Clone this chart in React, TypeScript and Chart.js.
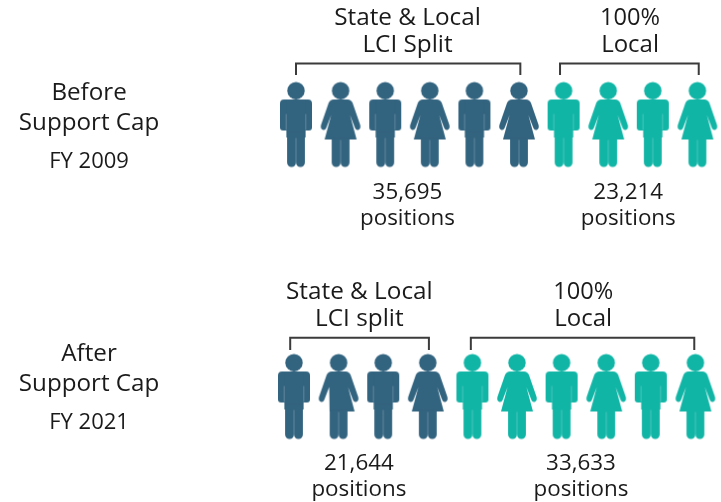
import React, { useEffect, useRef } from "react";
import { Chart, registerables } from "chart.js";

Chart.register(...registerables);

// Row 0 is "Before Support Cap", row 1 is "After Support Cap". X is the person's slot in its row.
const rowShift = [0, -0.045];
const row0Figures = ["man", "woman", "man", "woman", "man", "woman", "man", "woman", "man", "woman"];
const row1Figures = ["man", "womanCut", "man", "woman", "man", "woman", "man", "woman", "man", "woman"];
const row0Split = 6; // people in the State & Local group
const row1Split = 4;

const stateLabels = ["State & Local", "LCI Split", "35,695", "positions", "State & Local", "LCI split", "21,644", "positions"];
const stateSlots = [2.5, 2.5, 2.5, 2.5, 1.42, 1.42, 1.41, 1.41];
const stateRows = [-0.366, -0.266, 0.274, 0.369, 0.642, 0.741, 1.27, 1.366];
const stateSizes = [24.3, 24.3, 22.4, 22.4, 24.3, 24.3, 22.4, 22.4];

const localLabels = ["100%", "Local", "23,214", "positions", "100%", "Local", "33,633", "positions"];
const localSlots = [7.49, 7.49, 7.45, 7.45, 6.44, 6.44, 6.39, 6.39];
const localRows = stateRows;
const localSizes = [23.6, 24, 22.4, 22.4, 23.6, 24, 22.4, 22.4];

const sideLabels = ["Before", "Support Cap", "FY 2009", "After", "Support Cap", "FY 2021"];
const sideSlots = [-4.64, -4.64, -4.64, -4.64, -4.64, -4.64];
const sideRows = [-0.09, 0.02, 0.16, 0.87, 0.98, 1.12];
const sideSizes = [24.2, 24.2, 22, 24.2, 24.2, 22];

const bracketRuns = [
  { slots: [0, 0, 5.03, 5.03], rows: [-0.182, -0.224, -0.224, -0.182] },
  { slots: [5.92, 5.92, 9.03, 9.03], rows: [-0.182, -0.224, -0.224, -0.182] },
  { slots: [-0.13, -0.13, 2.98, 2.98], rows: [0.829, 0.784, 0.784, 0.829] },
  { slots: [3.92, 3.92, 8.93, 8.93], rows: [0.829, 0.784, 0.784, 0.829] },
];

const DARK = "#32637f";
const TEAL = "#11b5a6";
const INK = "#1a1a1a";
const BRACKET = "#3b3b3b";
const SLOT_PX = 44.6;
const ROW_PX = 272;
const ORIGIN_X = 296;
const ORIGIN_Y = 124.5;
const W = 721;
const H = 502;

function makeIcon(kind: string, color: string): HTMLCanvasElement {
  const c = document.createElement("canvas");
  c.width = 44;
  c.height = 88;
  const g = c.getContext("2d")!;
  g.translate(22, 1.5);
  g.fillStyle = color;
  g.strokeStyle = color;
  g.lineJoin = "round";
  g.lineCap = "round";
  g.beginPath();
  g.arc(0, 8.7, 8.7, 0, Math.PI * 2);
  g.fill();
  const slit = (segments: number[][]) => {
    g.strokeStyle = "rgba(255,255,255,0.3)";
    g.lineWidth = 0.8;
    g.lineCap = "butt";
    g.beginPath();
    segments.forEach((s) => {
      g.moveTo(s[0], s[1]);
      g.lineTo(s[2], s[3]);
    });
    g.stroke();
  };
  const legs = (top: number) => {
    g.beginPath();
    g.roundRect(-8.9, top, 8.9, 85 - top, [0, 0, 4.4, 4.4]);
    g.roundRect(0, top, 8.9, 85 - top, [0, 0, 4.4, 4.4]);
    g.fill();
  };
  if (kind === "man") {
    g.beginPath();
    g.roundRect(-16, 17.5, 32, 31, [4, 4, 3, 3]);
    g.fill();
    g.fillRect(-9.6, 17.5, 19.2, 38);
    legs(50);
    slit([
      [-9.8, 32, -9.8, 48],
      [9.8, 32, 9.8, 48],
      [0, 56, 0, 82],
    ]);
  } else {
    const leftHem = kind === "womanCut" ? -9 : -16;
    g.beginPath();
    g.moveTo(-7, 17.5);
    g.lineTo(7, 17.5);
    g.quadraticCurveTo(10.5, 17.5, 12, 21);
    g.lineTo(19.6, 43);
    g.quadraticCurveTo(20.5, 47, 17.5, 48);
    g.quadraticCurveTo(15.4, 48.5, 14.4, 46);
    g.lineTo(9.4, 33);
    g.lineTo(16, 57.5);
    g.lineTo(leftHem, 57.5);
    g.lineTo(-9.4, 33);
    g.lineTo(-14.4, 46);
    g.quadraticCurveTo(-15.4, 48.5, -17.5, 48);
    g.quadraticCurveTo(-20.5, 47, -19.6, 43);
    g.lineTo(-12, 21);
    g.quadraticCurveTo(-10.5, 17.5, -7, 17.5);
    g.closePath();
    g.fill();
    legs(56);
    slit([[0, 58, 0, 82]]);
  }
  return c;
}

const textPlugin = {
  id: "pictogramText",
  afterDatasetsDraw(chart: any) {
    const { ctx } = chart;
    chart.data.datasets.forEach((ds: any, i: number) => {
      if (!ds.texts) return;
      chart.getDatasetMeta(i).data.forEach((el: any, j: number) => {
        ctx.save();
        ctx.fillStyle = INK;
        ctx.textAlign = "center";
        ctx.textBaseline = "alphabetic";
        ctx.font = `${ds.sizes[j]}px "Open Sans"`;
        ctx.fillText(ds.texts[j], el.x, el.y);
        ctx.restore();
      });
    });
  },
};

const textDataset = (texts: string[], slots: number[], rows: number[], sizes: number[]) => ({
  type: "scatter",
  texts,
  sizes,
  data: texts.map((_, i) => ({ x: slots[i], y: rows[i] })),
  pointRadius: 0,
});

function figureDataset(color: string, from: number, to: number, row: number, figures: string[]) {
  const points: { x: number; y: number }[] = [];
  const styles: HTMLCanvasElement[] = [];
  for (let i = from; i < to; i++) {
    points.push({ x: i + rowShift[row], y: row });
    styles.push(makeIcon(figures[i], color));
  }
  return { type: "scatter", data: points, pointStyle: styles, pointRadius: 10, showLine: false };
}

export default function App() {
  const ref = useRef<HTMLCanvasElement>(null);
  useEffect(() => {
    document.body.style.margin = "0";
    const brackets = bracketRuns.map((b) => ({
      type: "scatter",
      data: b.slots.map((s, i) => ({ x: s, y: b.rows[i] })),
      showLine: true,
      borderColor: BRACKET,
      borderWidth: 2,
      pointRadius: 0,
      tension: 0,
      fill: false,
    }));
    const chart = new Chart(ref.current!, {
      type: "scatter",
      data: {
        datasets: [
          figureDataset(DARK, 0, row0Split, 0, row0Figures),
          figureDataset(TEAL, row0Split, 10, 0, row0Figures),
          figureDataset(DARK, 0, row1Split, 1, row1Figures),
          figureDataset(TEAL, row1Split, 10, 1, row1Figures),
          ...brackets,
          textDataset(stateLabels, stateSlots, stateRows, stateSizes),
          textDataset(localLabels, localSlots, localRows, localSizes),
          textDataset(sideLabels, sideSlots, sideRows, sideSizes),
        ] as any,
      },
      options: {
        responsive: false,
        animation: false,
        events: [],
        layout: { padding: 0, autoPadding: false },
        plugins: { legend: { display: false }, tooltip: { enabled: false } },
        scales: {
          x: { type: "linear", display: false, min: -ORIGIN_X / SLOT_PX, max: (W - ORIGIN_X) / SLOT_PX },
          y: { type: "linear", display: false, reverse: true, min: -ORIGIN_Y / ROW_PX, max: (H - ORIGIN_Y) / ROW_PX },
        },
      },
      plugins: [textPlugin],
    });
    return () => chart.destroy();
  }, []);
  return <canvas ref={ref} width={W} height={H} style={{ display: "block", filter: "blur(0.35px)" }} />;
}
